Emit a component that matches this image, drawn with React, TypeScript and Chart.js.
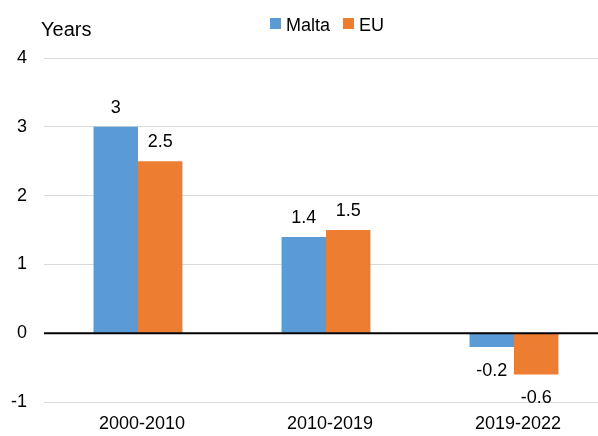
import React, { useEffect, useRef } from "react";
import { Chart, registerables } from "chart.js";

Chart.register(...registerables);

const categories = ["2000-2010", "2010-2019", "2019-2022"];
const maltaValues = [3, 1.4, -0.2];
const euValues = [2.5, 1.5, -0.6];
const seriesNames = ["Malta", "EU"];
const seriesColors = ["#5B9BD5", "#ED7D31"];
const yTitle = "Years";
const yMin = -1;
const yMax = 4;

const FONT = "'Liberation Sans', Arial, sans-serif";

const overlayPlugin = {
  id: "overlay",
  afterDatasetsDraw(chart: any) {
    const { ctx, chartArea, scales } = chart;
    ctx.save();
    // zero line above bars
    const y0 = scales.y.getPixelForValue(0);
    ctx.strokeStyle = "#000";
    ctx.lineWidth = 2;
    ctx.beginPath();
    ctx.moveTo(chartArea.left, y0);
    ctx.lineTo(chartArea.right, y0);
    ctx.stroke();

    // data labels
    ctx.fillStyle = "#000";
    ctx.font = `18px ${FONT}`;
    ctx.textAlign = "center";
    ctx.textBaseline = "alphabetic";
    chart.data.datasets.forEach((ds: any, i: number) => {
      const meta = chart.getDatasetMeta(i);
      meta.data.forEach((el: any, j: number) => {
        const v = ds.data[j];
        const txt = String(v);
        if (v >= 0) ctx.fillText(txt, el.x, el.y - 14);
        else ctx.fillText(txt, el.x, el.y + 29);
      });
    });

    // axis title
    ctx.textAlign = "left";
    ctx.font = `20px ${FONT}`;
    ctx.fillText(yTitle, 41, 36);

    // legend
    ctx.font = `18px ${FONT}`;
    let x = 270;
    chart.data.datasets.forEach((ds: any) => {
      ctx.fillStyle = ds.backgroundColor;
      ctx.fillRect(x, 18, 11, 11);
      ctx.fillStyle = "#000";
      ctx.fillText(ds.label, x + 16, 31);
      x += 16 + ctx.measureText(ds.label).width + 13;
    });
    ctx.restore();
  },
};

export default function App() {
  const ref = useRef<HTMLCanvasElement | null>(null);
  useEffect(() => {
    if (!ref.current) return;
    const chart = new Chart(ref.current, {
      type: "bar",
      data: {
        labels: categories,
        datasets: [
          { label: seriesNames[0], data: maltaValues, backgroundColor: seriesColors[0] },
          { label: seriesNames[1], data: euValues, backgroundColor: seriesColors[1] },
        ],
      },
      options: {
        animation: false,
        responsive: true,
        maintainAspectRatio: false,
        layout: { padding: { top: 58, left: 0, right: 0, bottom: 0 } },
        datasets: { bar: { categoryPercentage: 0.473, barPercentage: 1 } },
        plugins: {
          legend: { display: false },
          tooltip: { enabled: false },
        },
        scales: {
          x: {
            grid: { display: false, drawTicks: false },
            border: { display: false },
            ticks: {
              color: "#000",
              font: { family: FONT, size: 18 },
              padding: 11,
              labelOffset: 4,
            },
            afterFit: (s: any) => {
              s.height = 34;
            },
          },
          y: {
            min: yMin,
            max: yMax,
            grid: {
              color: "#D9D9D9",
              lineWidth: 1,
              drawTicks: false,
            },
            border: { display: false },
            ticks: {
              stepSize: 1,
              color: "#000",
              font: { family: FONT, size: 18 },
              padding: 17,
            },
            afterFit: (s: any) => {
              s.width = 44;
            },
          },
        },
      },
      plugins: [overlayPlugin],
    } as any);
    return () => chart.destroy();
  }, []);
  return (
    <div style={{ position: "fixed", left: 0, top: 0, width: 608, height: 436, background: "#fff" }}>
      <canvas ref={ref} />
    </div>
  );
}
